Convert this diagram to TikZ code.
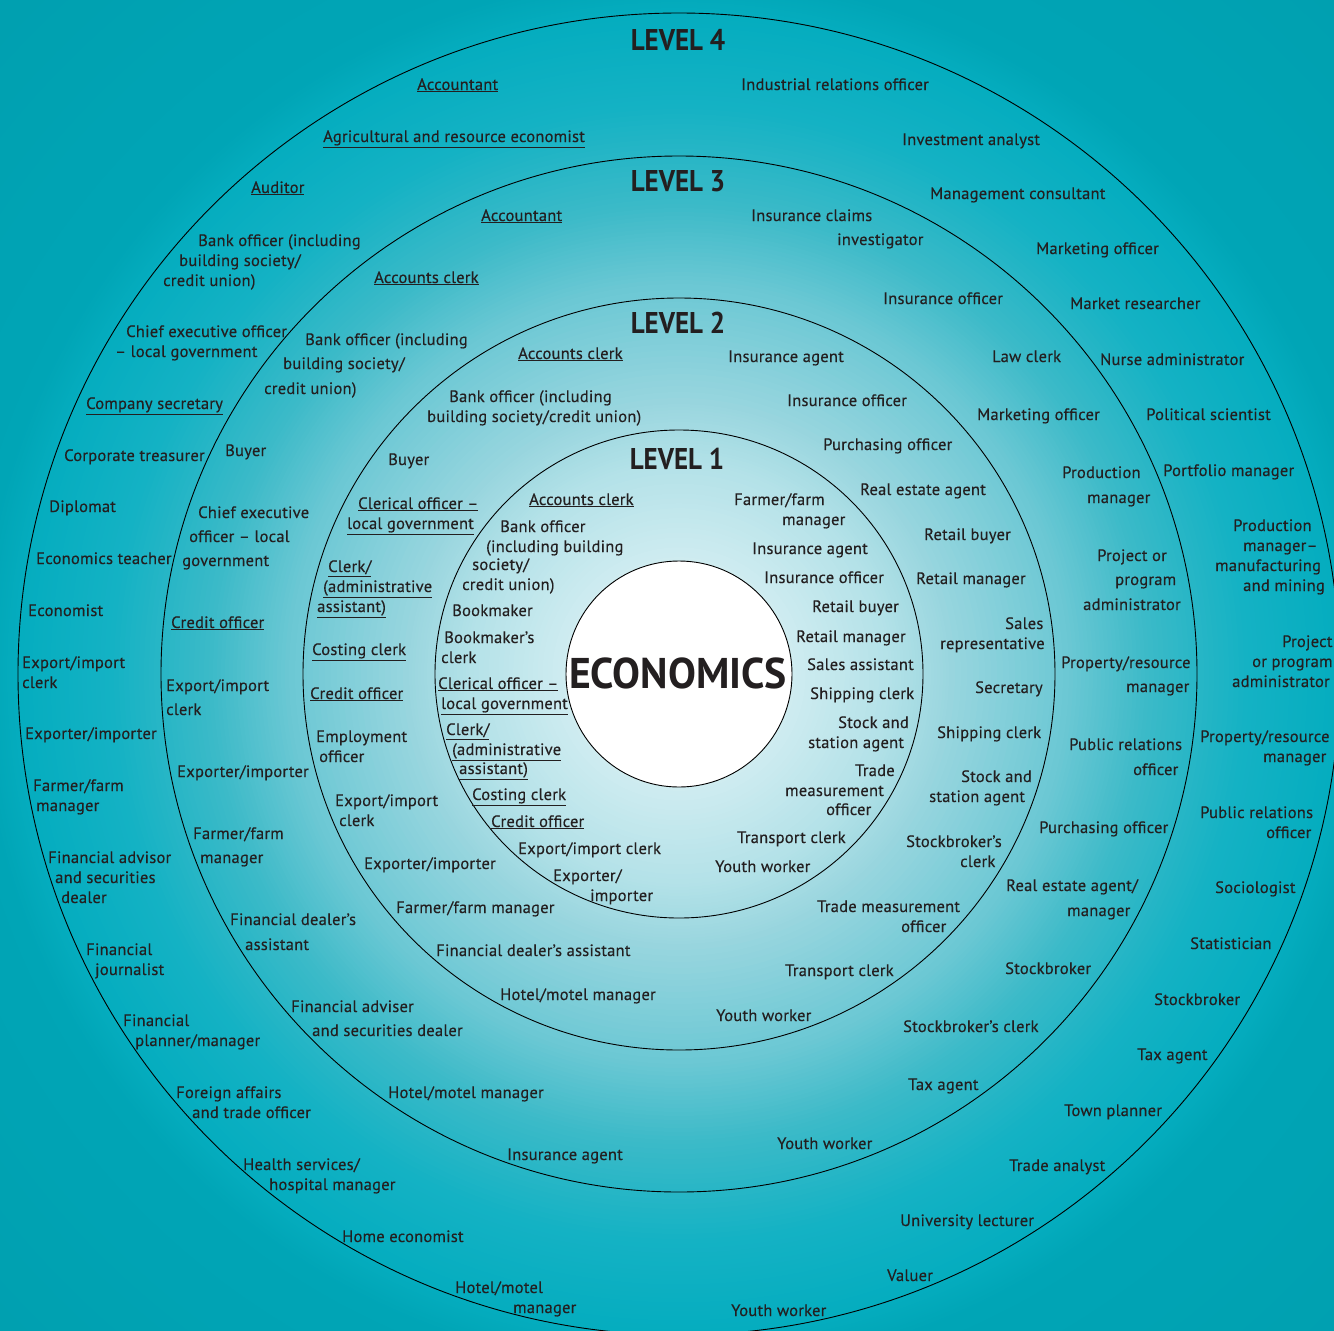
\documentclass[tikz,border=0pt]{standalone}
\usepackage{fontspec}
\setmainfont{PT Sans}
\newfontfamily\labfont[LetterSpace=1.5, FakeBold=0.3]{PT Sans}
\newfontfamily\titfont[FakeStretch=0.9]{PT Sans}
\newfontfamily\ecofont[FakeStretch=0.97]{PT Sans}
\definecolor{txt}{HTML}{231F20}
\definecolor{cA}{HTML}{DCF1F4}
\definecolor{cB}{HTML}{D0ECF1}
\definecolor{cC}{HTML}{B4E2E8}
\definecolor{cD}{HTML}{9AD6DF}
\definecolor{cE}{HTML}{6CC8D4}
\definecolor{cF}{HTML}{3CBAC8}
\definecolor{cG}{HTML}{14B2C4}
\definecolor{cH}{HTML}{05ADBF}
\definecolor{cI}{HTML}{00A5B6}
\definecolor{cJ}{HTML}{009FAF}
\newcounter{lb}
\tikzset{
  lab/.style={anchor=mid west, inner sep=0pt, yshift=-4.5pt, text=txt, font=\labfont\fontsize{16.5}{20}\selectfont},
  ring/.style={draw=black, line width=0.9pt},
  lvl/.style={anchor=center, inner sep=0pt, text=txt, font=\titfont\bfseries\fontsize{30}{32}\selectfont}
}
\newcommand\lbl[3]{\stepcounter{lb}\node[lab] (n\arabic{lb}) at (#1,#2) {#3};}
\newcommand\ulbl[3]{\stepcounter{lb}\node[lab] (n\arabic{lb}) at (#1,#2) {\underline{#3}};}
\begin{document}
\begin{tikzpicture}[x=1pt,y=-1pt]
\useasboundingbox (0,0) rectangle (1334,1331);
\coordinate (ctr) at (679,674);
\begin{scope}
\clip (0,0) rectangle (1334,1331);
\foreach \ra/\rb/\ca/\cb in {1000/700/cJ/cI, 700/660/cI/cH, 660/570/cH/cG, 570/470/cG/cF, 470/390/cF/cE, 390/270/cE/cD, 270/210/cD/cC, 210/112/cC/cB, 112/0/cB/cA}{
  \foreach \k in {0,...,19}{
    \pgfmathsetmacro\rr{\ra-(\ra-\rb)*\k/20}
    \pgfmathtruncatemacro\pp{100*\k/20}
    \fill[\cb!\pp!\ca] (ctr) circle (\rr);
  }
}
\draw[ring] (ctr) circle (661);
\end{scope}
\draw[ring] (ctr) circle (518);
\draw[ring] (ctr) circle (376);
\draw[ring] (ctr) circle (244);
\node[circle, draw=black, line width=0.9pt, fill=white, minimum size=226pt, inner sep=0pt] (core) at (ctr) {};
\node[anchor=center, inner sep=0pt, text=txt, font=\ecofont\bfseries\fontsize{43}{45}\selectfont] (econ) at (678,673) {ECONOMICS};
\node[lvl] (L4) at (678,40) {LEVEL 4};
\node[lvl] (L3) at (678,181) {LEVEL 3};
\node[lvl] (L2) at (678,323) {LEVEL 2};
\node[lvl] (L1) at (677,459) {LEVEL 1};
% ---------- Level 4 ----------
\ulbl{417}{83}{Accountant}
\lbl{741}{83}{Industrial relations officer}
\ulbl{323}{135}{Agricultural and resource economist}
\lbl{902}{138}{Investment analyst}
\ulbl{251}{186}{Auditor}
\lbl{930}{192}{Management consultant}
\lbl{198}{239}{Bank officer (including}
\lbl{179}{259}{building society/}
\lbl{163}{279}{credit union)}
\lbl{1036}{247}{Marketing officer}
\lbl{126}{330}{Chief executive officer}
\lbl{115}{350}{– local government}
\lbl{1070}{302}{Market researcher}
\ulbl{86}{402}{Company secretary}
\lbl{1100}{358}{Nurse administrator}
\lbl{64}{454}{Corporate treasurer}
\lbl{1146}{413}{Political scientist}
\lbl{49}{505}{Diplomat}
\lbl{1163}{469}{Portfolio manager}
\lbl{36}{557}{Economics teacher}
\lbl{1233}{524}{Production}
\lbl{1243}{544}{manager–}
\lbl{1215}{564}{manufacturing}
\lbl{1243}{584}{and mining}
\lbl{28}{609}{Economist}
\lbl{1282}{640}{Project}
\lbl{1252}{660}{or program}
\lbl{1232}{680}{administrator}
\lbl{22}{661}{Export/import}
\lbl{22}{681}{clerk}
\lbl{1200}{735}{Property/resource}
\lbl{1263}{755}{manager}
\lbl{25}{732}{Exporter/importer}
\lbl{33}{784}{Farmer/farm}
\lbl{36}{804}{manager}
\lbl{1200}{811}{Public relations}
\lbl{1266}{831}{officer}
\lbl{48}{856}{Financial advisor}
\lbl{55}{876}{and securities}
\lbl{61}{896}{dealer}
\lbl{1215}{886}{Sociologist}
\lbl{86}{948}{Financial}
\lbl{95}{968}{journalist}
\lbl{1190}{942}{Statistician}
\lbl{123}{1019}{Financial}
\lbl{135}{1039}{planner/manager}
\lbl{1154}{998}{Stockbroker}
\lbl{176}{1091}{Foreign affairs}
\lbl{192}{1111}{and trade officer}
\lbl{1137}{1053}{Tax agent}
\lbl{243}{1163}{Health services/}
\lbl{269}{1183}{hospital manager}
\lbl{1064}{1109}{Town planner}
\lbl{342}{1235}{Home economist}
\lbl{1009}{1164}{Trade analyst}
\lbl{455}{1286}{Hotel/motel}
\lbl{513}{1306}{manager}
\lbl{900}{1219}{University lecturer}
\lbl{887}{1274}{Valuer}
\lbl{731}{1309}{Youth worker}
% ---------- Level 3 ----------
\ulbl{481}{214}{Accountant}
\lbl{751}{214}{Insurance claims}
\lbl{837}{238}{investigator}
\ulbl{374}{276}{Accounts clerk}
\lbl{883}{297}{Insurance officer}
\lbl{305}{338}{Bank officer (including}
\lbl{283}{362}{building society/}
\lbl{264}{387}{credit union)}
\lbl{992}{355}{Law clerk}
\lbl{977}{413}{Marketing officer}
\lbl{225}{449}{Buyer}
\lbl{1062}{471}{Production}
\lbl{1087}{496}{manager}
\lbl{198}{511}{Chief executive}
\lbl{189}{535}{officer – local}
\lbl{182}{559}{government}
\lbl{1097}{554}{Project or}
\lbl{1115}{578}{program}
\lbl{1083}{603}{administrator}
\ulbl{171}{621}{Credit officer}
\lbl{1061}{661}{Property/resource}
\lbl{1126}{685}{manager}
\lbl{166}{684}{Export/import}
\lbl{166}{708}{clerk}
\lbl{1069}{743}{Public relations}
\lbl{1133}{768}{officer}
\lbl{177}{770}{Exporter/importer}
\lbl{1039}{826}{Purchasing officer}
\lbl{193}{832}{Farmer/farm}
\lbl{200}{856}{manager}
\lbl{1006}{884}{Real estate agent/}
\lbl{1067}{909}{manager}
\lbl{230}{918}{Financial dealer’s}
\lbl{245}{943}{assistant}
\lbl{1005}{967}{Stockbroker}
\lbl{291}{1005}{Financial adviser}
\lbl{312}{1029}{and securities dealer}
\lbl{903}{1025}{Stockbroker’s clerk}
\lbl{388}{1091}{Hotel/motel manager}
\lbl{908}{1083}{Tax agent}
\lbl{507}{1153}{Insurance agent}
\lbl{777}{1142}{Youth worker}
% ---------- Level 2 ----------
\ulbl{518}{352}{Accounts clerk}
\lbl{728}{355}{Insurance agent}
\lbl{449}{395}{Bank officer (including}
\lbl{427}{415}{building society/credit union)}
\lbl{787}{399}{Insurance officer}
\lbl{823}{443}{Purchasing officer}
\lbl{388}{458}{Buyer}
\lbl{860}{488}{Real estate agent}
\ulbl{358}{502}{Clerical officer –}
\ulbl{347}{522}{local government}
\lbl{924}{533}{Retail buyer}
\ulbl{328}{565}{Clerk/}
\ulbl{323}{585}{(administrative}
\ulbl{317}{605}{assistant)}
\lbl{916}{577}{Retail manager}
\lbl{1005}{622}{Sales}
\lbl{940}{642}{representative}
\ulbl{312}{648}{Costing clerk}
\lbl{975}{686}{Secretary}
\ulbl{310}{692}{Credit officer}
\lbl{937}{731}{Shipping clerk}
\lbl{316}{735}{Employment}
\lbl{319}{755}{officer}
\lbl{961}{775}{Stock and}
\lbl{929}{795}{station agent}
\lbl{335}{799}{Export/import}
\lbl{339}{819}{clerk}
\lbl{906}{840}{Stockbroker’s}
\lbl{960}{860}{clerk}
\lbl{364}{862}{Exporter/importer}
\lbl{396}{906}{Farmer/farm manager}
\lbl{817}{905}{Trade measurement}
\lbl{901}{925}{officer}
\lbl{436}{949}{Financial dealer’s assistant}
\lbl{785}{969}{Transport clerk}
\lbl{500}{993}{Hotel/motel manager}
\lbl{716}{1014}{Youth worker}
% ---------- Level 1 ----------
\ulbl{529}{498}{Accounts clerk}
\lbl{734}{498}{Farmer/farm}
\lbl{782}{518}{manager}
\lbl{500}{525}{Bank officer}
\lbl{486}{545}{(including building}
\lbl{472}{563}{society/}
\lbl{462}{583}{credit union)}
\lbl{752}{547}{Insurance agent}
\lbl{764}{576}{Insurance officer}
\lbl{452}{609}{Bookmaker}
\lbl{812}{605}{Retail buyer}
\lbl{444}{636}{Bookmaker’s}
\lbl{441}{656}{clerk}
\lbl{796}{635}{Retail manager}
\ulbl{438}{682}{Clerical officer –}
\ulbl{441}{702}{local government}
\lbl{807}{663}{Sales assistant}
\lbl{810}{692}{Shipping clerk}
\ulbl{446}{728}{Clerk/}
\ulbl{452}{748}{(administrative}
\ulbl{459}{767}{assistant)}
\lbl{838}{721}{Stock and}
\lbl{808}{741}{station agent}
\lbl{855}{769}{Trade}
\lbl{785}{789}{measurement}
\lbl{826}{808}{officer}
\ulbl{472}{793}{Costing clerk}
\ulbl{491}{820}{Credit officer}
\lbl{737}{836}{Transport clerk}
\lbl{518}{847}{Export/import clerk}
\lbl{715}{865}{Youth worker}
\lbl{553}{874}{Exporter/}
\lbl{590}{894}{importer}
\end{tikzpicture}
\end{document}
